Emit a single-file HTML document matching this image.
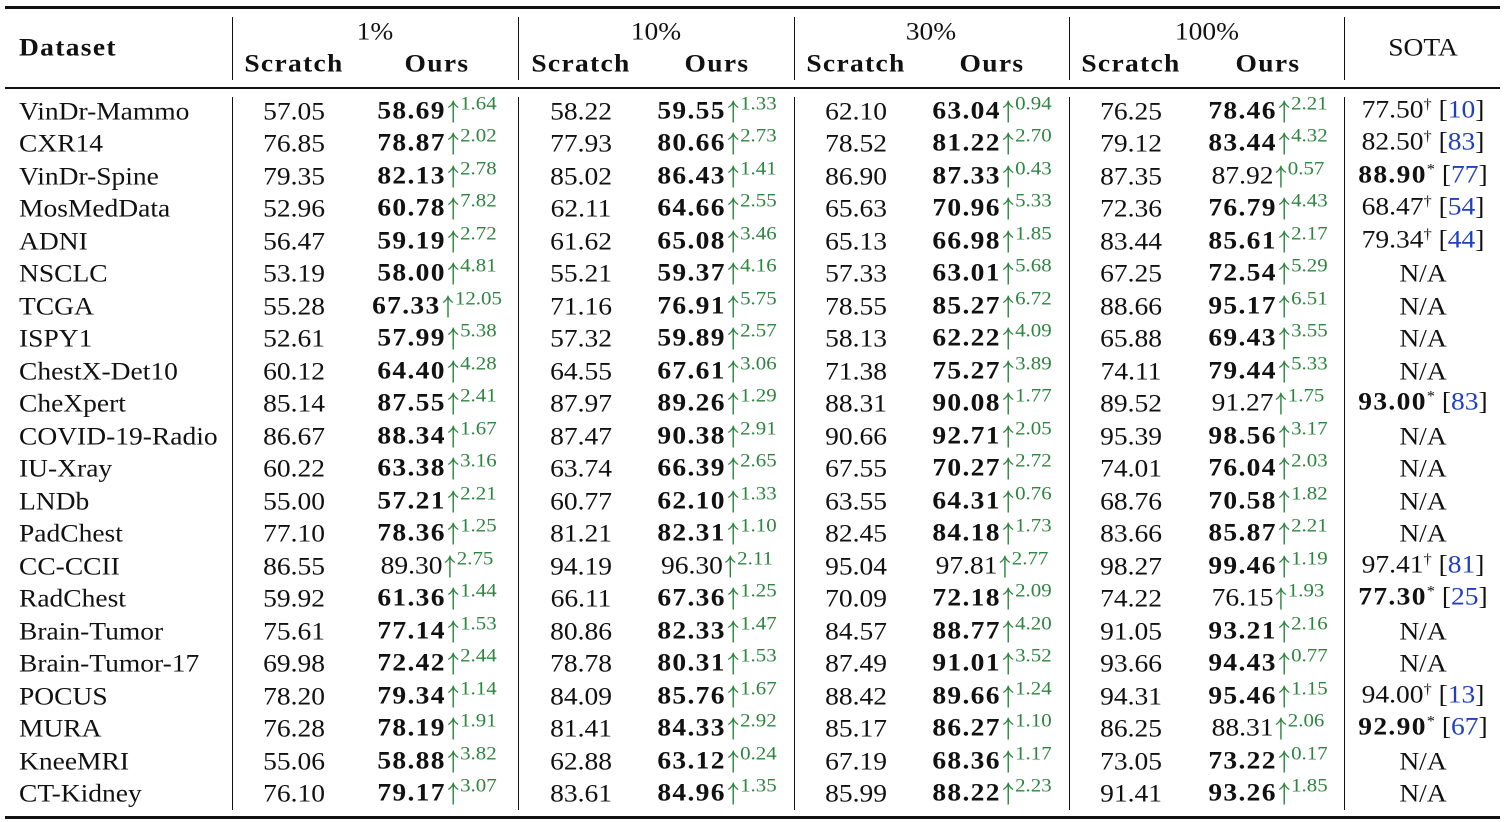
<!DOCTYPE html>
<html><head><meta charset="utf-8">
<style>
body{margin:0;background:#fff;width:1505px;height:822px;overflow:hidden;position:relative;font-family:"Liberation Serif","DejaVu Serif",serif;color:#111}
.t{position:absolute;white-space:nowrap;font-size:25px;line-height:25px;transform:translate(-50%,-50%) scaleX(1.1)}
.l{position:absolute;white-space:nowrap;font-size:25px;line-height:25px;transform-origin:left center;transform:translateY(-50%) scaleX(1.1)}
.h{position:absolute;background:#111}
b{font-weight:bold;letter-spacing:1.2px}
.up{display:inline-block;width:12px;height:22px;vertical-align:-4px;margin-left:1px}
.sup{font-size:19px;position:relative;top:-9px;color:#2e8540}
.ref{color:#2040c0}
.s2{font-size:15px;position:relative;top:-9px}
</style></head><body>
<div id="root"></div>
<script>
const datasets=["VinDr-Mammo","CXR14","VinDr-Spine","MosMedData","ADNI","NSCLC","TCGA","ISPY1","ChestX-Det10","CheXpert","COVID-19-Radio","IU-Xray","LNDb","PadChest","CC-CCII","RadChest","Brain-Tumor","Brain-Tumor-17","POCUS","MURA","KneeMRI","CT-Kidney"];
const scratch1=["57.05","76.85","79.35","52.96","56.47","53.19","55.28","52.61","60.12","85.14","86.67","60.22","55.00","77.10","86.55","59.92","75.61","69.98","78.20","76.28","55.06","76.10"];
const ours1=["58.69","78.87","82.13","60.78","59.19","58.00","67.33","57.99","64.40","87.55","88.34","63.38","57.21","78.36","89.30","61.36","77.14","72.42","79.34","78.19","58.88","79.17"];
const gain1=["1.64","2.02","2.78","7.82","2.72","4.81","12.05","5.38","4.28","2.41","1.67","3.16","2.21","1.25","2.75","1.44","1.53","2.44","1.14","1.91","3.82","3.07"];
const scratch10=["58.22","77.93","85.02","62.11","61.62","55.21","71.16","57.32","64.55","87.97","87.47","63.74","60.77","81.21","94.19","66.11","80.86","78.78","84.09","81.41","62.88","83.61"];
const ours10=["59.55","80.66","86.43","64.66","65.08","59.37","76.91","59.89","67.61","89.26","90.38","66.39","62.10","82.31","96.30","67.36","82.33","80.31","85.76","84.33","63.12","84.96"];
const gain10=["1.33","2.73","1.41","2.55","3.46","4.16","5.75","2.57","3.06","1.29","2.91","2.65","1.33","1.10","2.11","1.25","1.47","1.53","1.67","2.92","0.24","1.35"];
const scratch30=["62.10","78.52","86.90","65.63","65.13","57.33","78.55","58.13","71.38","88.31","90.66","67.55","63.55","82.45","95.04","70.09","84.57","87.49","88.42","85.17","67.19","85.99"];
const ours30=["63.04","81.22","87.33","70.96","66.98","63.01","85.27","62.22","75.27","90.08","92.71","70.27","64.31","84.18","97.81","72.18","88.77","91.01","89.66","86.27","68.36","88.22"];
const gain30=["0.94","2.70","0.43","5.33","1.85","5.68","6.72","4.09","3.89","1.77","2.05","2.72","0.76","1.73","2.77","2.09","4.20","3.52","1.24","1.10","1.17","2.23"];
const scratch100=["76.25","79.12","87.35","72.36","83.44","67.25","88.66","65.88","74.11","89.52","95.39","74.01","68.76","83.66","98.27","74.22","91.05","93.66","94.31","86.25","73.05","91.41"];
const ours100=["78.46","83.44","87.92","76.79","85.61","72.54","95.17","69.43","79.44","91.27","98.56","76.04","70.58","85.87","99.46","76.15","93.21","94.43","95.46","88.31","73.22","93.26"];
const gain100=["2.21","4.32","0.57","4.43","2.17","5.29","6.51","3.55","5.33","1.75","3.17","2.03","1.82","2.21","1.19","1.93","2.16","0.77","1.15","2.06","0.17","1.85"];
const sotaVal=["77.50","82.50","88.90","68.47","79.34","","","","","93.00","","","","","97.41","77.30","","","94.00","92.90","",""];
const sotaMark=["†","†","*","†","†","","","","","*","","","","","†","*","","","†","*","",""];
const sotaRef=["10","83","77","54","44","","","","","83","","","","","81","25","","","13","67","",""];
const sotaBold=[0,0,1,0,0,0,0,0,0,1,0,0,0,0,0,1,0,0,0,1,0,0];
const nonBold={"2-100":1,"9-100":1,"14-1":1,"14-10":1,"14-30":1,"15-100":1,"19-100":1};

const ARROW='<svg class="up" viewBox="0 0 12 22"><line x1="6" y1="2" x2="6" y2="22" stroke="#2e8540" stroke-width="1.3"/><path d="M1.5 7 Q5 4.5 6 1 Q7 4.5 10.5 7" fill="none" stroke="#2e8540" stroke-width="1.3"/></svg>';
const root=document.getElementById('root');
function add(cls,x,y,html,name){
  const d=document.createElement('div');
  d.className=cls;d.style.left=x+'px';d.style.top=y+'px';d.innerHTML=html;
  
  
  root.appendChild(d);return d;
}
function rule(x,y,w,h,name){
  const d=document.createElement('div');d.className='h';
  d.style.left=x+'px';d.style.top=y+'px';d.style.width=w+'px';d.style.height=h+'px';
  
  
  root.appendChild(d);
}
rule(5,6,1495,2.5,'top-rule');
rule(5,87,1495,1.5,'header-rule');
rule(5,816,1495,2.5,'bottom-rule');
const vx=[232,518,794,1069,1344];
vx.forEach((x,i)=>{rule(x,17,1.3,63,'header-divider');rule(x,97,1.3,713,'body-divider');});
add('l',19,48,'<b>Dataset</b>','dataset-header');
const groups=["1%","10%","30%","100%"];
const gc=[375,656,931,1207], sc=[294,581,856,1131], oc=[437,717,992,1268];
groups.forEach((g,i)=>{
  add('t',gc[i],32,g,'group-header');
  add('t',sc[i],64,'<b>Scratch</b>','scratch-header');
  add('t',oc[i],64,'<b>Ours</b>','ours-header');
});
add('t',1423,48,'SOTA','sota-header');
const S=[scratch1,scratch10,scratch30,scratch100],O=[ours1,ours10,ours30,ours100],G=[gain1,gain10,gain30,gain100],K=["1","10","30","100"];
datasets.forEach((ds,r)=>{
  const y=112+r*32.48;
  add('l',19,y,ds,'dataset-name');
  for(let i=0;i<4;i++){
    add('t',sc[i],y,S[i][r],'scratch-value');
    const v=nonBold[r+'-'+K[i]]?O[i][r]:'<b>'+O[i][r]+'</b>';
    add('t',oc[i],y,v+ARROW+'<span class="sup">'+G[i][r]+'</span>','ours-value');
  }
  let s;
  if(sotaVal[r]){
    const v=sotaBold[r]?'<b>'+sotaVal[r]+'</b>':sotaVal[r];
    s=v+'<span class="s2">'+sotaMark[r]+'</span> [<span class="ref">'+sotaRef[r]+'</span>]';
  } else s='N/A';
  add('t',1423,y,s,'sota-value');
});
</script>
</body></html>
